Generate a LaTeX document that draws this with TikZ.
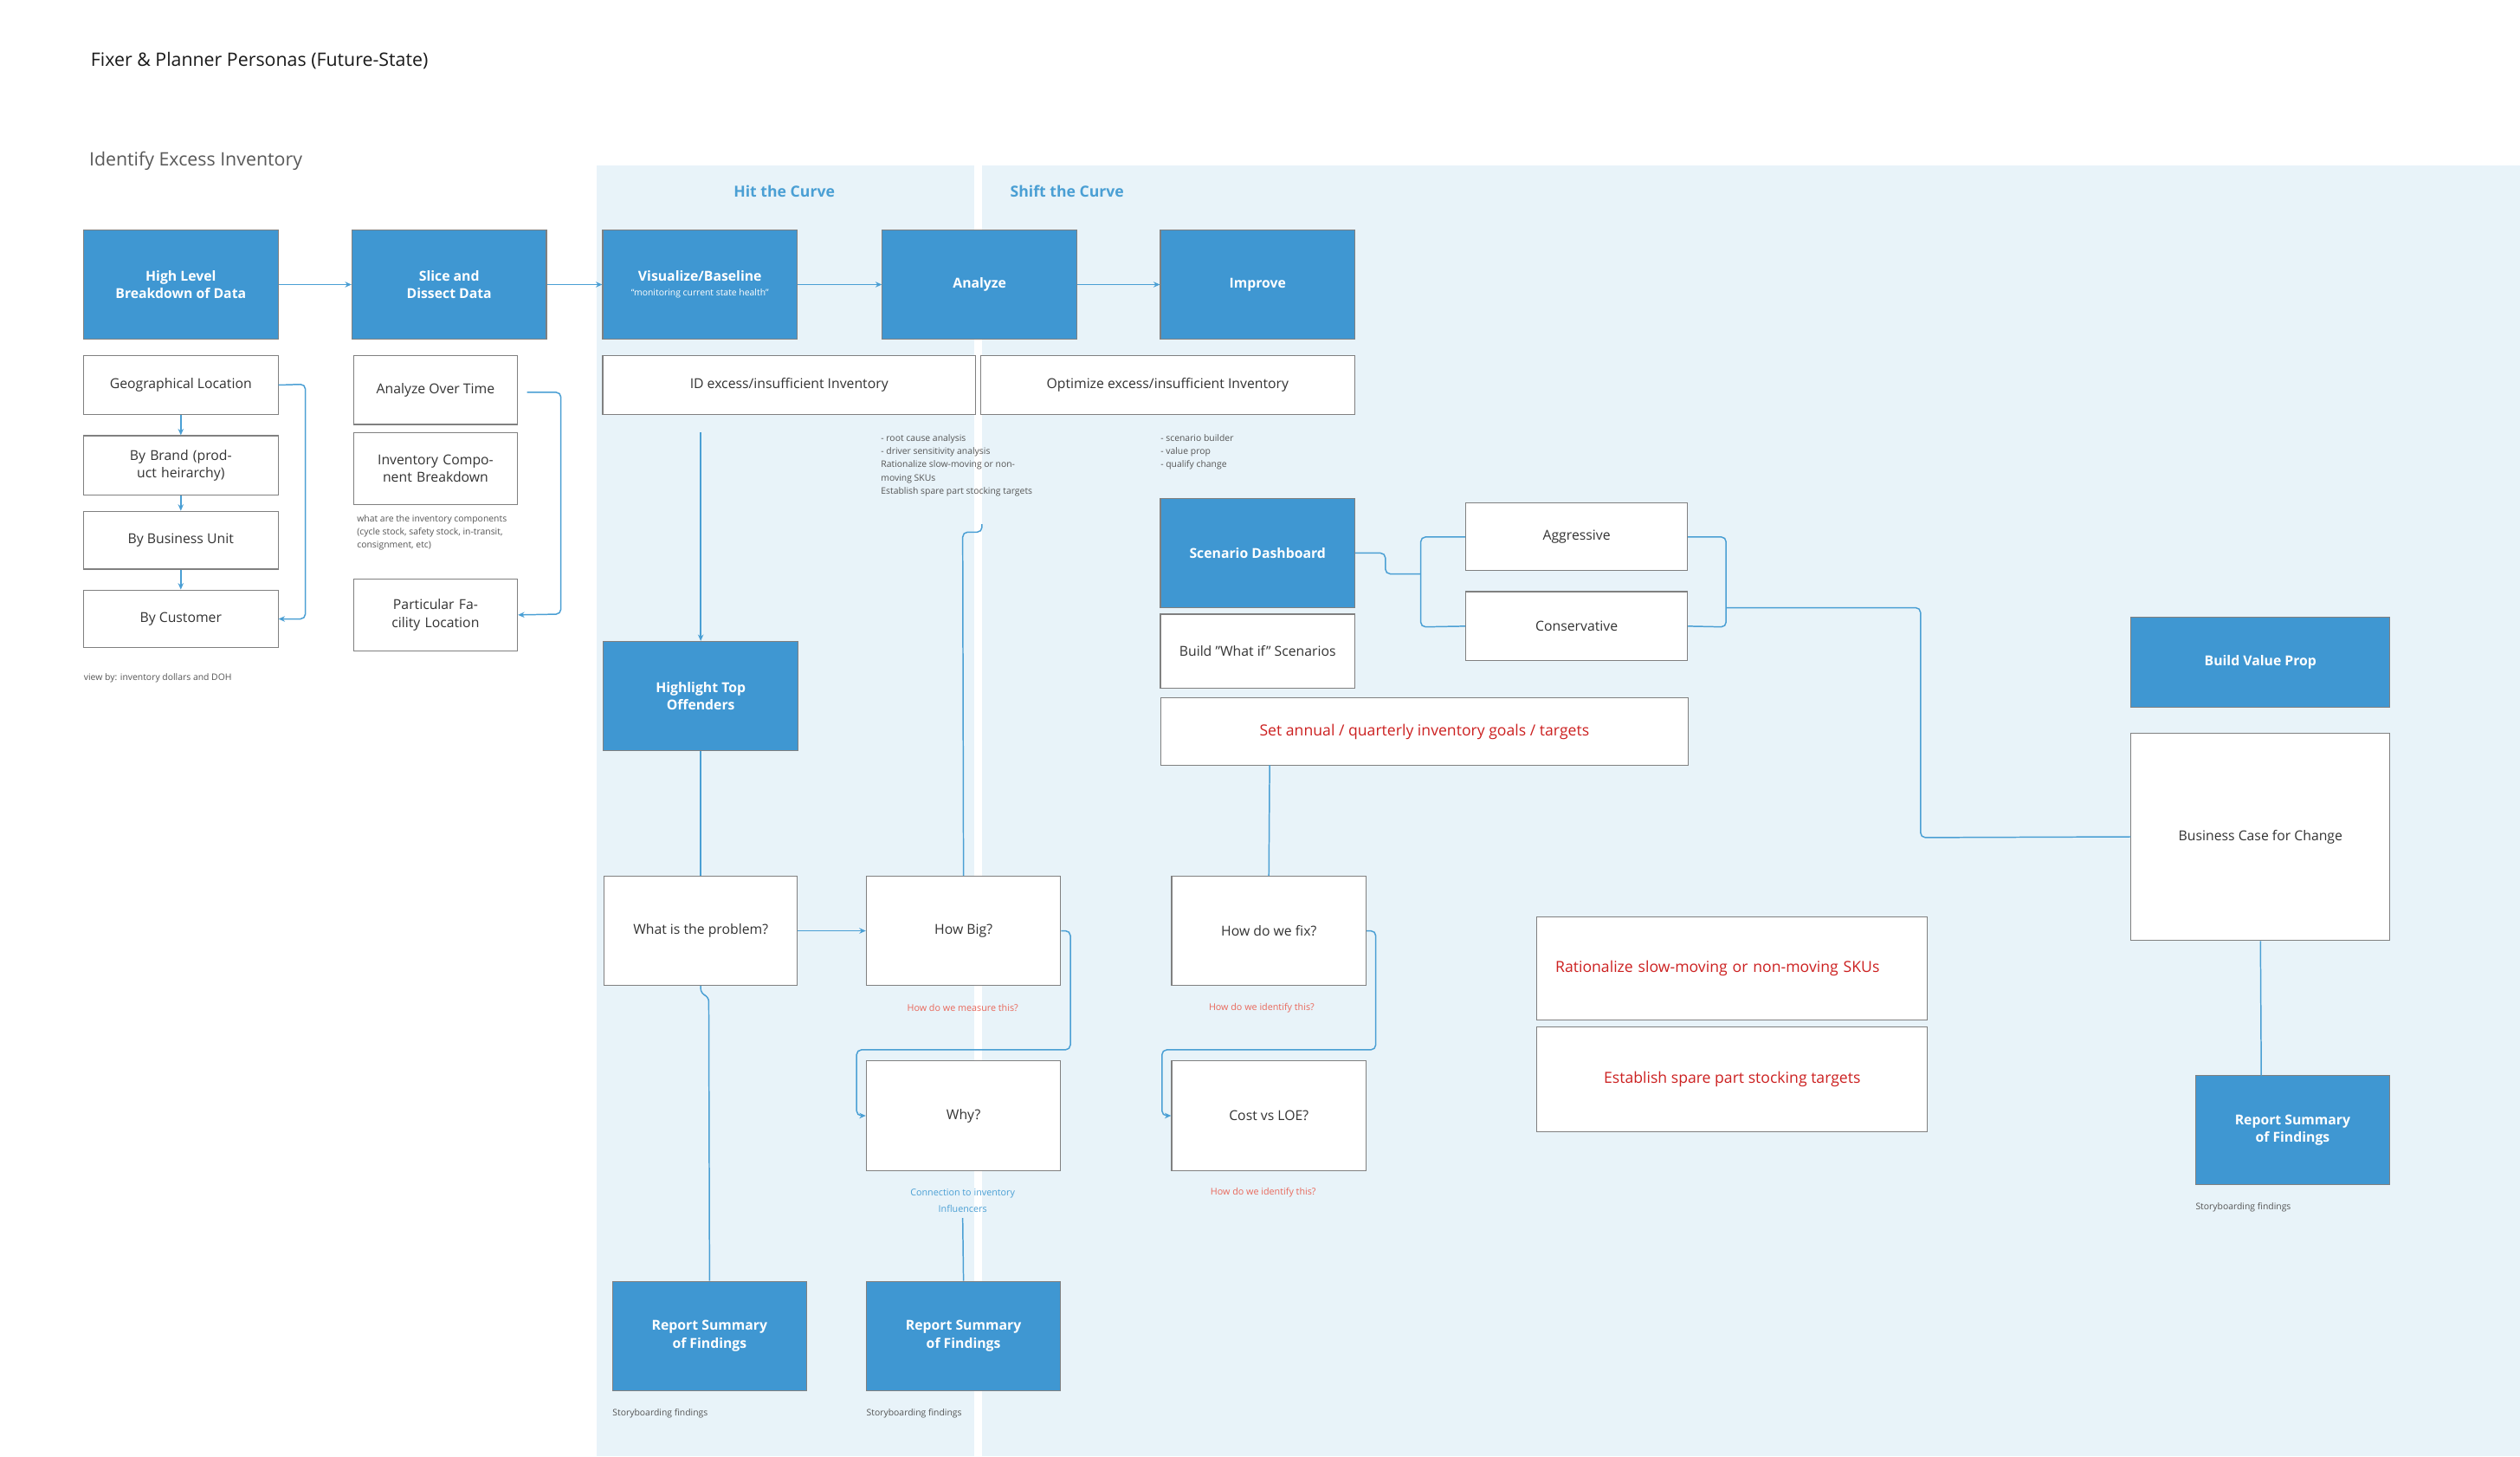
\documentclass[tikz,border=0pt]{standalone}
\usepackage{fontspec}
\setmainfont{Open Sans}
\usetikzlibrary{arrows.meta}
\definecolor{bbox}{HTML}{3F97D2}
\definecolor{bg}{HTML}{E8F3F9}
\definecolor{lnk}{HTML}{4A9FD4}
\definecolor{dred}{HTML}{CC2020}
\definecolor{lred}{HTML}{E8675A}
\definecolor{gtx}{HTML}{555555}
\begin{document}
\begin{tikzpicture}[x=1pt,y=-1pt,
 base/.style={draw=black!50,line width=0.6pt,inner sep=1pt,align=center,font=\fontsize{8.5}{11}\selectfont},
 wbox/.style={base,fill=white,text=black!80},
 bbx/.style={base,fill=bbox,text=white,font=\fontsize{8.5}{11}\selectfont\bfseries},
 note/.style={inner sep=0,align=left,anchor=north west,text=gtx,font=\fontsize{5.6}{8.2}\selectfont},
 ln/.style={draw=lnk,line width=0.8pt,rounded corners=3pt},
 ar/.style={ln,-{Stealth[length=4pt,width=3.5pt]}},
 hd/.style={text=lnk,font=\fontsize{9.5}{11}\selectfont\bfseries}]
\useasboundingbox (0,0) rectangle (1568,906);
\fill[white] (0,0) rectangle (1568,906);
\fill[bg] (371,103) rectangle (606,906);
\fill[bg] (611,103) rectangle (1568,906);
\node[anchor=west,font=\fontsize{11.5}{13}\selectfont,text=black!90] (title) at (53,38) {Fixer \& Planner Personas (Future-State)};
\node[anchor=west,font=\fontsize{11.5}{13}\selectfont,text=black!65] (sub) at (52,100) {Identify Excess Inventory};
\node[hd] (hit) at (488,119) {Hit the Curve};
\node[hd] (shift) at (664,119) {Shift the Curve};
% top row
\node[bbx,minimum width=121,minimum height=68] (hl) at (112.5,177) {High Level\\Breakdown of Data};
\node[bbx,minimum width=121,minimum height=68] (sl) at (279.5,177) {Slice and\\Dissect Data};
\node[bbx,minimum width=121,minimum height=68] (vb) at (435.5,177) {Visualize/Baseline\\[-2pt]{\fontsize{5.6}{7}\selectfont\mdseries ``monitoring current state health''}};
\node[bbx,minimum width=121,minimum height=68] (an) at (609.5,177) {Analyze};
\node[bbx,minimum width=121,minimum height=68] (im) at (782.5,177) {Improve};
\draw[ar] (hl) -- (sl); \draw[ar] (sl) -- (vb); \draw[ar] (vb) -- (an); \draw[ar] (an) -- (im);
% col1
\node[wbox,minimum width=121,minimum height=37] (geo) at (112.5,239.5) {Geographical Location};
\node[wbox,minimum width=121,minimum height=37,text width=110] (br) at (112.5,289.5) {By Brand (product heirarchy)};
\node[wbox,minimum width=121,minimum height=36] (bu) at (112.5,336) {By Business Unit};
\node[wbox,minimum width=121,minimum height=36] (cu) at (112.5,385) {By Customer};
\draw[ar] (geo) -- (br); \draw[ar] (br) -- (bu); \draw[ar] (bu) -- (cu);
\draw[ar] (geo.east) -- (190,239) -- (190,385) -- (cu.east);
\node[note] (vby) at (52,419) {view by: inventory dollars and DOH};
% col2
\node[wbox,minimum width=102,minimum height=43] (aot) at (271,242.5) {Analyze Over Time};
\node[wbox,minimum width=102,minimum height=45,text width=100] (icb) at (271,291.5) {Inventory Component Breakdown};
\node[note] (icbn) at (222,320) {what are the inventory components\\(cycle stock, safety stock, in-transit,\\consignment, etc)};
\node[wbox,minimum width=102,minimum height=45,text width=98] (pfl) at (271,382.5) {Particular Facility Location};
\coordinate (aote) at (328,244);
\draw[ar] (aote) -- (349,244) -- (349,382) -- (pfl.east);
% hit
\node[wbox,minimum width=232,minimum height=37] (id) at (491,239.5) {ID excess/insufficient Inventory};
\node[wbox,minimum width=233,minimum height=37] (opt) at (726.5,239.5) {Optimize excess/insufficient Inventory};
\node[bbx,minimum width=121,minimum height=68] (hto) at (436,433) {Highlight Top\\Offenders};
\coordinate (ids) at (436,269);
\draw[ar] (ids) -- (hto.north);
\node[note] (an1) at (548,270) {- root cause analysis\\- driver sensitivity analysis\\Rationalize slow-moving or non-\\moving SKUs\\Establish spare part stocking targets};
\node[note] (im1) at (722,270) {- scenario builder\\- value prop\\- qualify change};
\node[wbox,minimum width=120,minimum height=68] (wp) at (436,579) {What is the problem?};
\node[wbox,minimum width=121,minimum height=68] (hb) at (599.5,579) {How Big?};
\node[wbox,minimum width=121,minimum height=68] (why) at (599.5,694) {Why?};
\node[bbx,minimum width=121,minimum height=68] (r1) at (441.5,831) {Report Summary\\of Findings};
\node[bbx,minimum width=121,minimum height=68] (r2) at (599.5,831) {Report Summary\\of Findings};
\draw[ln] (hto.south) -- (wp.north);
\draw[ar] (wp) -- (hb);
\coordinate (anb) at (611,326);
\draw[ln] (hb.north) -- (599,331) -- (611,331) -- (anb);
\draw[ar] (hb.east) -- (666,579) -- (666,653) -- (533,653) -- (533,694) -- (why.west);
\draw[ln] (wp.south) -- (436,618) -- (441,620) -- (r1.north);
\node[text=lred,font=\fontsize{5.8}{7}\selectfont] (hbq) at (599,627) {How do we measure this?};
\node[text=lnk,align=center,font=\fontsize{5.8}{10}\selectfont] (con) at (599,747) {Connection to inventory\\Influencers};
\draw[ln] (con.south) -- (r2.north);
\node[note] (s1) at (381,876) {Storyboarding findings};
\node[note] (s2) at (539,876) {Storyboarding findings};
% shift
\node[bbx,minimum width=121,minimum height=68] (sd) at (782.5,344) {Scenario Dashboard};
\node[wbox,minimum width=121,minimum height=46] (bw) at (782.5,405) {Build "What if" Scenarios};
\node[base,fill=white,text=dred,font=\fontsize{9.5}{11}\selectfont,minimum width=328,minimum height=42,anchor=west,align=left,inner xsep=10pt] (sa) at (722,455) {Set annual / quarterly inventory goals / targets};
\node[wbox,minimum width=138,minimum height=42] (ag) at (981,334) {Aggressive};
\node[wbox,minimum width=138,minimum height=43] (cs) at (981,389.5) {Conservative};
\draw[ln] (sd.east) -- (862,344) -- (862,357) -- (884,357);
\draw[ln] (ag.west) -- (884,334) -- (884,390) -- (cs.west);
\draw[ln] (ag.east) -- (1074,334) -- (1074,390) -- (cs.east);
\node[bbx,minimum width=161,minimum height=56] (bvp) at (1406.5,412) {Build Value Prop};
\node[wbox,minimum width=161,minimum height=129] (bc) at (1406.5,520.5) {Business Case for Change};
\draw[ln] (1074,378) -- (1195,378) -- (1195,521) -- (bc.west);
\node[bbx,minimum width=121,minimum height=68] (r3) at (1426.5,703) {Report Summary\\of Findings};
\draw[ln] (bc.south) -- (1407,669);
\node[note] (s3) at (1366,748) {Storyboarding findings};
\node[wbox,minimum width=121,minimum height=68] (fix) at (789.5,579) {How do we fix?};
\node[wbox,minimum width=121,minimum height=68] (cost) at (789.5,694) {Cost vs LOE?};
\draw[ln] (790,476) -- (fix.north);
\draw[ar] (fix.east) -- (856,579) -- (856,653) -- (723,653) -- (723,694) -- (cost.west);
\node[text=lred,font=\fontsize{5.8}{7}\selectfont] (fq1) at (785,627) {How do we identify this?};
\node[text=lred,font=\fontsize{5.8}{7}\selectfont] (fq2) at (786,742) {How do we identify this?};
\node[base,fill=white,text=dred,font=\fontsize{9.5}{12}\selectfont,minimum width=243,minimum height=64,text width=220,align=left,inner xsep=8pt,anchor=north west] (rat) at (956,570) {Rationalize slow-moving or non-moving SKUs};
\node[base,fill=white,text=dred,font=\fontsize{9.5}{12}\selectfont,minimum width=243,minimum height=65,anchor=west,align=left,inner xsep=8pt] (est) at (956,671.5) {Establish spare part stocking targets};
\end{tikzpicture}
\end{document}
